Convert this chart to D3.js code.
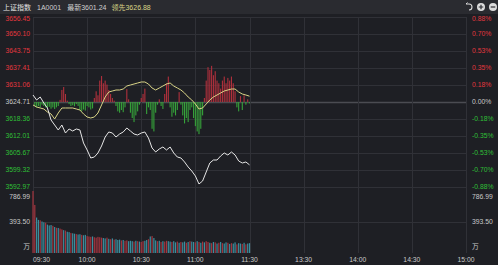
<!DOCTYPE html>
<html>
<head>
<meta charset="utf-8">
<script src="https://cdn.jsdelivr.net/npm/d3@7"></script>
<style>
  body { margin: 0; background: #1e1f24; }
  svg { display: block; font-family: "Liberation Sans", "Noto Sans CJK SC", sans-serif; }
</style>
</head>
<body>
<svg id="chart" width="498" height="265"></svg>
<script>
// ---- data ----
const prevClose = 3624.71;
const lastPrice = 3601.24;
const leadLast = 3626.88;

const priceTicks = [3656.45, 3650.10, 3643.75, 3637.41, 3631.06, 3624.71, 3618.36, 3612.01, 3605.67, 3599.32, 3592.97];
const pctTicks = ["0.88%", "0.70%", "0.53%", "0.35%", "0.18%", "0.00%", "-0.18%", "-0.35%", "-0.53%", "-0.70%", "-0.88%"];
const volTicks = [786.99, 393.50];
const timeTickMinutes = [0, 30, 60, 90, 120, 150, 180, 210, 240];
const timeTickLabels = ["09:30", "10:00", "10:30", "11:00", "11:30", "13:30", "14:00", "14:30", "15:00"];

// index and lead lines, one value every 2 minutes from 09:30 to 11:30
const indexPrice = [
  3627.32, 3625.46, 3626.58, 3624.34, 3622.47, 3617.99, 3616.12, 3614.25, 3616.12, 3613.13,
  3614.63, 3613.88, 3614.63, 3614.25, 3609.40, 3606.79, 3603.80, 3604.17, 3605.67, 3608.28,
  3611.64, 3613.51, 3613.13, 3611.64, 3612.76, 3613.51, 3615.00, 3613.88, 3612.76, 3612.39,
  3613.13, 3613.51, 3611.27, 3607.53, 3606.04, 3607.16, 3607.91, 3606.79, 3607.91, 3605.67,
  3604.17, 3603.80, 3602.31, 3600.44, 3598.94, 3597.08, 3594.10, 3595.21, 3598.57, 3601.93,
  3603.05, 3603.05, 3604.55, 3605.67, 3604.92, 3606.04, 3604.92, 3602.68, 3601.93, 3602.31,
  3601.24
];
const leadPrice = [
  3623.59, 3622.84, 3622.47, 3622.10, 3620.98, 3620.23, 3618.36, 3620.60, 3622.47, 3622.47,
  3622.47, 3622.47, 3622.10, 3621.72, 3620.23, 3619.11, 3618.74, 3619.11, 3620.60, 3623.59,
  3626.58, 3628.44, 3628.82, 3629.19, 3629.19, 3629.56, 3630.68, 3631.06, 3631.43, 3631.80,
  3632.18, 3632.18, 3631.43, 3629.94, 3629.19, 3629.94, 3630.68, 3631.43, 3631.80, 3630.68,
  3629.94, 3629.19, 3628.07, 3626.58, 3625.46, 3623.96, 3622.10, 3622.47, 3623.96, 3625.46,
  3626.58, 3627.32, 3628.07, 3628.82, 3629.19, 3629.56, 3629.56, 3628.44, 3627.70, 3627.32,
  3626.88
];

// red/green strength bars, one per minute (points above/below previous close)
const strength = [
  0, -1.5, -2, -1.5, -2, -1, -1.5, -2, -2.2, -1.8,
  -2.5, -2, -2.6, -2, -1.5, 0.8, 4.5, 5.6, 3, 0.5,
  -0.8, -1.5, -1.2, -1.6, -0.8, -1.5, -3, -3.4, -2.8, -3.2,
  -1.5, -2, -2.8, -2.4, 1.5, 4, 2.5, 8, 9.7, 7,
  8, 6.5, 4.5, 3, 1.5, 0.5, -1.5, -3.5, -4, -3,
  -3.8, -2, 4.8, 1, -4, -6, -7.5, -5, -3.5, -1,
  1.5, 3, 5, -4.5, -2, -3, -10, -11, -4, -1,
  1, -1.5, -2.6, 3, 7, 9.5, -2, -5.5, -4, -5,
  -3, 3.7, -1, -5, -8, -6, -7.5, -3, -2, -6,
  -9, -11, -12, -10, -5, 1.5, 8, 13, 12, 13.5,
  10, 11.5, 8, 7, 5, 8, 9.5, 7, 9, 8,
  9.5, 7, 4, -2, -3.5, 2.2, -3, 2.5, -1, 1,
  -0.5
];

// volume (万), one per minute, and whether that minute closed up (R) or down (T)
const volume = [
  786.99, 610, 450, 420, 415, 400, 390, 385, 360, 350,
  355, 345, 330, 320, 318, 310, 300, 290, 285, 270,
  265, 255, 250, 245, 240, 235, 238, 230, 225, 230,
  215, 210, 205, 210, 200, 195, 205, 200, 195, 190,
  185, 195, 180, 175, 185, 170, 175, 165, 170, 160,
  165, 155, 160, 150, 155, 150, 145, 155, 150, 145,
  140, 150, 155, 165, 175, 210, 215, 190, 160, 150,
  155, 140, 150, 145, 155, 150, 145, 140, 150, 135,
  145, 130, 140, 135, 145, 130, 140, 150, 145, 140,
  135, 150, 140, 130, 145, 135, 150, 140, 130, 125,
  140, 135, 120, 130, 140, 125, 120, 135, 130, 115,
  125, 120, 135, 110, 125, 120, 115, 130, 110, 120,
  125
];
const volumeDir = ("RRTTRTTRTT" + "TRTRTRRTRT" + "TRTTRTTRTT" + "RRRTRRRRRT" + "TRTRTRTTTR" +
  "TRRTTTRTRT" + "RRTTRTRTTR" + "TRTRRTTRTT" + "RTRTTRTRTT" + "RTRTRTRRTR" +
  "TRTRTRTTRT" + "RTTRTTRTRTT").split("");

// ---- layout ----
const svg = d3.select("#chart"),
  width = +svg.attr("width"),
  height = +svg.attr("height"),
  plot = { left: 33, right: 466, top: 17, priceBottom: 187, volTop: 191, volBottom: 253 };

const colors = {
  bg: "#1e1f24", header: "#2a2b30", grid: "#303137", zero: "#4b4c52",
  up: "#e2373f", down: "#2fbf37", flat: "#c8c8c8",
  index: "#e6e6e6", lead: "#d9d487",
  barUp: "#b0303c", barDown: "#36a23a",
  volUp: "#a2343e", volDown: "#3b8e9e"
};

const x = d3.scaleLinear().domain([0, 240]).range([plot.left, plot.right]);
const y = d3.scaleLinear().domain([d3.min(priceTicks), d3.max(priceTicks)]).range([plot.priceBottom, plot.top]);
const yVol = d3.scaleLinear().domain([0, d3.max(volTicks)]).range([plot.volBottom, plot.volTop]);

svg.append("rect").attr("width", width).attr("height", height).attr("fill", colors.bg);
svg.append("rect").attr("width", width).attr("height", 14).attr("fill", colors.header);

// ---- grid ----
const grid = svg.append("g");
grid.selectAll(".hgrid").data(priceTicks).join("line")
  .attr("x1", plot.left).attr("x2", plot.right)
  .attr("y1", d => Math.round(y(d)) + 0.5).attr("y2", d => Math.round(y(d)) + 0.5)
  .attr("stroke", d => d === prevClose ? colors.zero : colors.grid)
  .attr("stroke-width", d => d === prevClose ? 1.4 : 1);

grid.selectAll(".vgrid").data(volTicks.slice(1)).join("line")
  .attr("x1", plot.left).attr("x2", plot.right)
  .attr("y1", d => Math.round(yVol(d)) + 0.5).attr("y2", d => Math.round(yVol(d)) + 0.5)
  .attr("stroke", colors.grid);

grid.selectAll(".tgrid").data(timeTickMinutes).join("line")
  .attr("x1", d => Math.round(x(d)) + 0.5).attr("x2", d => Math.round(x(d)) + 0.5)
  .attr("y1", plot.top).attr("y2", plot.volBottom)
  .attr("stroke", colors.grid);

// ---- strength bars ----
svg.append("g").selectAll("rect").data(strength).join("rect")
  .attr("x", (d, i) => x(i) - 0.55)
  .attr("width", 1.1)
  .attr("y", d => y(prevClose + Math.max(d, 0)))
  .attr("height", d => Math.abs(y(prevClose + d) - y(prevClose)))
  .attr("fill", d => d >= 0 ? colors.barUp : colors.barDown);

// ---- lines ----
const line = d3.line().x((d, i) => x(i * 2)).y(d => y(d));
svg.append("path").datum(leadPrice).attr("d", line)
  .attr("fill", "none").attr("stroke", colors.lead).attr("stroke-width", 1);
svg.append("path").datum(indexPrice).attr("d", line)
  .attr("fill", "none").attr("stroke", colors.index).attr("stroke-width", 1);

// ---- volume ----
svg.append("g").selectAll("rect").data(volume).join("rect")
  .attr("x", (d, i) => x(i) - 0.6)
  .attr("width", 1.2)
  .attr("y", d => yVol(d))
  .attr("height", d => yVol(0) - yVol(d))
  .attr("fill", (d, i) => volumeDir[i] === "R" ? colors.volUp : colors.volDown);

// ---- axis labels ----
const fontSize = 6.8;
const tickColor = d => d > prevClose ? colors.up : d < prevClose ? colors.down : colors.flat;

svg.append("g").selectAll("text").data(priceTicks).join("text")
  .attr("x", 30).attr("y", (d, i) => y(d) + (i === 0 ? 2 : 0))
  .attr("text-anchor", "end").attr("dominant-baseline", "middle")
  .attr("font-size", fontSize).attr("fill", tickColor)
  .text(d => d.toFixed(2));

svg.append("g").selectAll("text").data(pctTicks).join("text")
  .attr("x", 472).attr("y", (d, i) => y(priceTicks[i]) + (i === 0 ? 2 : 0))
  .attr("dominant-baseline", "middle")
  .attr("font-size", fontSize).attr("fill", (d, i) => tickColor(priceTicks[i]))
  .text(d => d);

const volLabels = volTicks.map(v => ({ v, t: v.toFixed(2) })).concat([{ v: 0, t: "万" }]);
[{ x: 30, anchor: "end" }, { x: 472, anchor: "start" }].forEach(side => {
  svg.append("g").selectAll("text").data(volLabels).join("text")
    .attr("x", side.x)
    .attr("y", d => d.v === d3.max(volTicks) ? yVol(d.v) + 6 : d.v === 0 ? yVol(d.v) - 6 : yVol(d.v))
    .attr("text-anchor", side.anchor).attr("dominant-baseline", "middle")
    .attr("font-size", fontSize).attr("fill", colors.flat)
    .text(d => d.t);
});

svg.append("g").selectAll("text").data(timeTickMinutes).join("text")
  .attr("x", d => x(d))
  .attr("y", 260)
  .attr("text-anchor", (d, i) => i === 0 ? "start" : "middle")
  .attr("dominant-baseline", "middle")
  .attr("font-size", fontSize).attr("fill", colors.flat)
  .text((d, i) => timeTickLabels[i]);

// ---- header ----
const header = svg.append("text").attr("x", 3).attr("y", 7.5)
  .attr("dominant-baseline", "middle").attr("font-size", 7);
header.append("tspan").attr("fill", "#e4e4e4").text("上证指数");
header.append("tspan").attr("dx", 6).attr("fill", "#cfcfcf").text("1A0001");
header.append("tspan").attr("dx", 6).attr("fill", "#cfcfcf").text("最新" + lastPrice.toFixed(2));
header.append("tspan").attr("dx", 5).attr("fill", colors.lead).text("领先" + leadLast.toFixed(2));

// toolbar icons (undo, zoom in, zoom out)
const icons = svg.append("g").attr("fill", "none").attr("stroke", "#dcdcdc");
icons.append("path").attr("d", d3.arc()({ innerRadius: 3, outerRadius: 3, startAngle: 0, endAngle: Math.PI }))
  .attr("transform", "translate(469,7)").attr("stroke-width", 1.1);
icons.append("path").attr("d", "M466,4 L469,4 M466,4 L467.5,2.5").attr("stroke-width", 1);
[481, 493].forEach((cx, k) => {
  icons.append("circle").attr("cx", cx).attr("cy", 7).attr("r", 4).attr("fill", "#dcdcdc").attr("stroke", "none");
  icons.append("path").attr("stroke", colors.header).attr("stroke-width", 1.2)
    .attr("d", k === 0 ? `M${cx - 2.3},7 H${cx + 2.3} M${cx},4.7 V9.3` : `M${cx - 2.3},7 H${cx + 2.3}`);
});
</script>
</body>
</html>
